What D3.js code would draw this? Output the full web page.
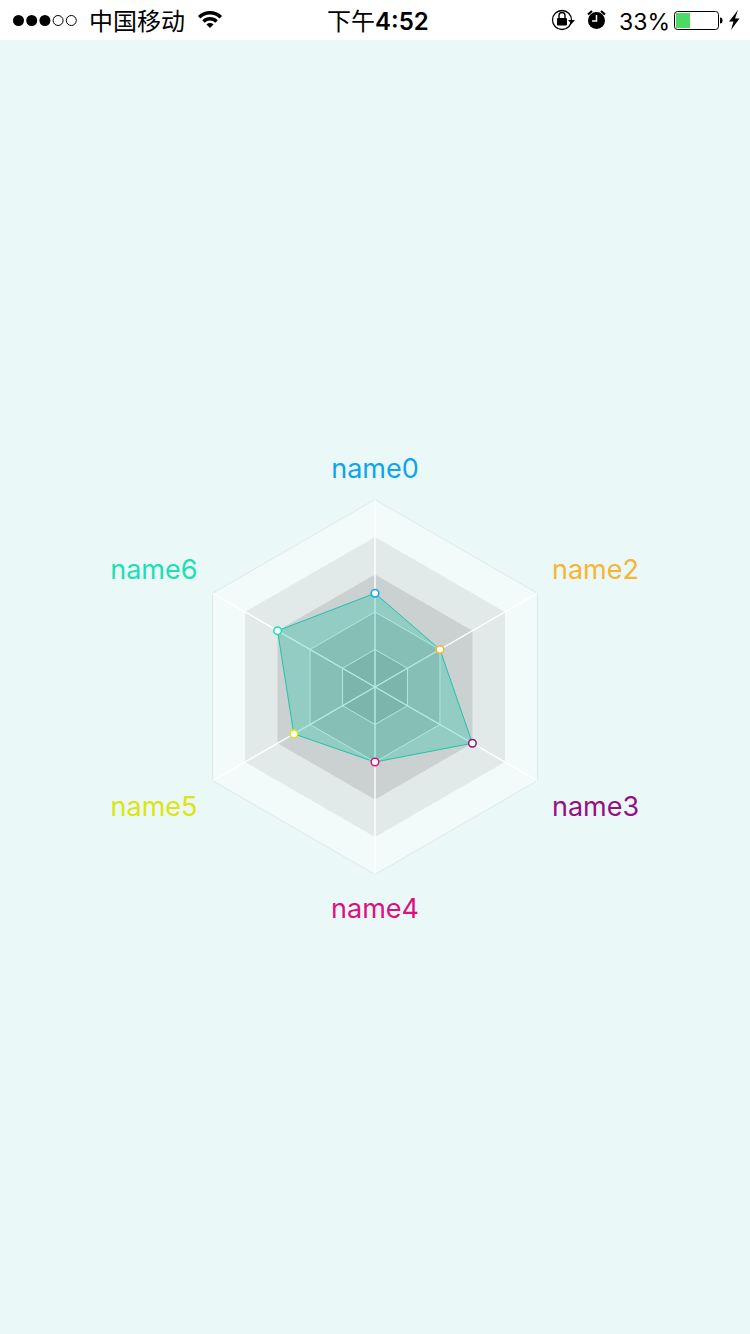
<!DOCTYPE html>
<html><head><meta charset="utf-8">
<script src="https://cdnjs.cloudflare.com/ajax/libs/d3/7.8.5/d3.min.js"></script>
<style>html,body{margin:0;padding:0;background:#eaf8f8}svg{display:block}</style>
</head><body><div id="c"></div>
<script>
const categories = ["name0","name2","name3","name4","name5","name6"];
const values = [50,40,60,40,50,60];
const labelColors = ["#0ea5ea","#f7b531","#950f85","#de0f7f","#dbe50f","#1ddfb2"];
const levels = [100,80,60,40,20];
const levelFills = ["#f2fbfa","#e2e9e9","#cbd0d0","#b8bcbc","#a9aeae"];

const W=750,H=1334,cx=375,cy=687,R=187.5;
const svg=d3.select("#c").append("svg").attr("width",W).attr("height",H);
svg.append("rect").attr("width",W).attr("height",H).attr("fill","#eaf8f8");

const r=d3.scaleLinear().domain([0,100]).range([0,R]);
const angle=d3.scalePoint().domain(categories).range([0,300]);
const pt=(c,v)=>{const a=angle(c)*Math.PI/180;return [cx+r(v)*Math.sin(a),cy-r(v)*Math.cos(a)];};
const line=d3.line().curve(d3.curveLinearClosed);

levels.forEach((lv,i)=>{
  svg.append("path").attr("d",line(categories.map(c=>pt(c,lv))))
    .attr("fill",levelFills[i])
    .attr("stroke",i===0?"#dfe8e6":(i>=3?"#f4fbfa":"none"))
    .attr("stroke-width",1);
});
svg.append("g").selectAll("line").data(categories).join("line")
  .attr("x1",cx).attr("y1",cy)
  .attr("x2",c=>pt(c,100)[0]).attr("y2",c=>pt(c,100)[1])
  .attr("stroke","#ffffff").attr("stroke-width",1.4);

svg.append("path").attr("d",line(categories.map((c,i)=>pt(c,values[i]))))
  .attr("fill","#1ec4ab").attr("fill-opacity",0.33)
  .attr("stroke","#1ec4ab").attr("stroke-width",1);

svg.append("g").selectAll("circle").data(categories).join("circle")
  .attr("cx",(c,i)=>pt(c,values[i])[0]).attr("cy",(c,i)=>pt(c,values[i])[1])
  .attr("r",3.8).attr("fill","#fff").attr("stroke-width",1.5)
  .attr("stroke",(c,i)=>labelColors[i]);

const labelX=[375,552,552,375,197.5,197.5], labelY=[478,579,816,918,816,579], anchors=["middle","start","start","middle","end","end"];
svg.append("g").selectAll("text").data(categories).join("text")
  .attr("x",(c,i)=>labelX[i]).attr("y",(c,i)=>labelY[i])
  .attr("text-anchor",(c,i)=>anchors[i]).attr("fill",(c,i)=>labelColors[i])
  .attr("font-family","Inter, sans-serif").attr("font-size",27).text(c=>c);

// status bar
const bar=svg.append("g");
bar.append("rect").attr("width",W).attr("height",40).attr("fill","#fff");
const dots=[1,1,1,0,0];
bar.append("g").selectAll("circle").data(dots).join("circle")
  .attr("cx",(d,i)=>18.5+i*13.2).attr("cy",20.5).attr("r",d=>d?5.5:5)
  .attr("fill",d=>d?"#000":"none").attr("stroke","#000").attr("stroke-width",d=>d?0:1);
bar.append("text").attr("x",89).attr("y",30).attr("font-family","'Noto Sans CJK SC'").attr("font-size",24).attr("fill","#000").text("中国移动");
const arc=d3.arc();
[[17,13.5],[11,7.5]].forEach(([o,n])=>bar.append("path")
  .attr("transform","translate(210,28)")
  .attr("d",arc({innerRadius:n,outerRadius:o,startAngle:-Math.PI/4,endAngle:Math.PI/4})).attr("fill","#000"));
bar.append("path").attr("transform","translate(210,28)").attr("d",arc({innerRadius:0,outerRadius:5,startAngle:-Math.PI/4,endAngle:Math.PI/4})).attr("fill","#000");
bar.append("text").attr("x",327).attr("y",30).attr("font-family","'Noto Sans CJK SC'").attr("font-size",24).attr("fill","#000").text("下午");
bar.append("text").attr("x",375).attr("y",30).attr("font-family","Inter, sans-serif").attr("font-weight",600).attr("font-size",24).attr("fill","#000").text("4:52");
// orientation lock
bar.append("circle").attr("cx",562).attr("cy",20).attr("r",9.5).attr("fill","none").attr("stroke","#000").attr("stroke-width",1.3);
bar.append("rect").attr("x",557).attr("y",18).attr("width",10).attr("height",7.5).attr("rx",1).attr("fill","#000");
bar.append("path").attr("d","M559 18v-2.5a3 3 0 0 1 6 0V18").attr("fill","none").attr("stroke","#000").attr("stroke-width",1.4);
bar.append("path").attr("d","M568 20h7l-3.5 4z").attr("fill","#000");
// alarm
bar.append("circle").attr("cx",596.5).attr("cy",20.5).attr("r",8.5).attr("fill","#000");
bar.append("path").attr("d","M596.5 15v6h-4.5").attr("fill","none").attr("stroke","#fff").attr("stroke-width",1.5);
bar.append("path").attr("d","M588 14.5l4-3.5M605 14.5l-4-3.5").attr("stroke","#000").attr("stroke-width",2.2);
bar.append("text").attr("x",619).attr("y",30).attr("font-family","Inter, sans-serif").attr("font-size",23).attr("fill","#000").text("33%");
// battery
bar.append("rect").attr("x",674.5).attr("y",11.5).attr("width",44).attr("height",18).attr("rx",3).attr("fill","none").attr("stroke","#000").attr("stroke-width",1);
bar.append("rect").attr("x",676).attr("y",13).attr("width",14).attr("height",15).attr("fill","#4cd964");
bar.append("path").attr("d","M720 17.5c2 0 2.5 1 2.5 3s-.5 3-2.5 3z").attr("fill","#000");
bar.append("path").attr("d","M738 10l-9 11.5h4.5l-2.5 8.5 8.5-11.5h-4.5z").attr("fill","#000");
</script></body></html>
